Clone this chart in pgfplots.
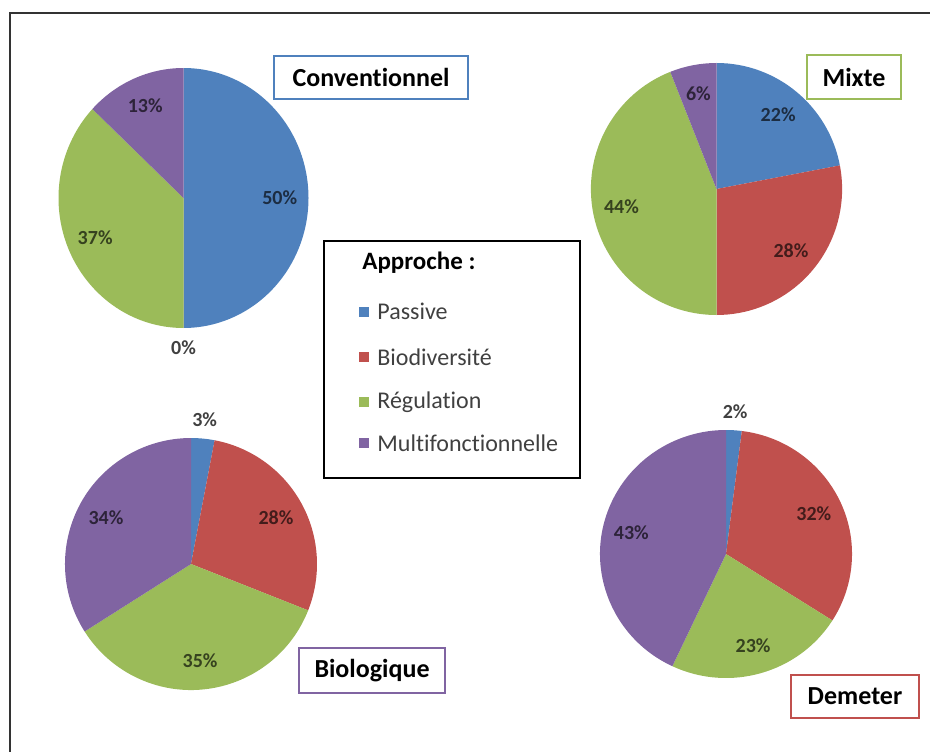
\documentclass[border=0pt]{standalone}
\usepackage{fontspec}
\setmainfont{Carlito}[Ligatures=NoCommon]
\usepackage{pgfplots}
\usepackage{pgfplotstable}
\pgfplotsset{compat=1.18}

\definecolor{cpas}{HTML}{4F81BD}
\definecolor{cbio}{HTML}{C0504D}
\definecolor{creg}{HTML}{9BBB59}
\definecolor{cmul}{HTML}{8064A2}

% parts of each approach, in percent
\pgfplotstableread{
approche valeur
Passive 50
Biodiversite 0
Regulation 37
Multifonctionnelle 13
}\conv
\pgfplotstableread{
approche valeur
Passive 22
Biodiversite 28
Regulation 44
Multifonctionnelle 6
}\mixte
\pgfplotstableread{
approche valeur
Passive 3
Biodiversite 28
Regulation 35
Multifonctionnelle 34
}\bio
\pgfplotstableread{
approche valeur
Passive 2
Biodiversite 32
Regulation 23
Multifonctionnelle 43
}\demeter

\newcommand\lblfont{\bfseries\fontsize{10}{11}\selectfont}
\newcommand\titfont{\bfseries\fontsize{13}{15}\selectfont}
\newcommand\legfont{\fontsize{12}{14}\selectfont}

% one slice: table, row, colour (clockwise from 12 o'clock, like Excel)
\newcommand\slice[3]{%
  \pgfplotstablegetelem{#2}{valeur}\of{#1}%
  \let\val\pgfplotsretval
  \pgfmathsetmacro\angA{90-3.6*\cum}%
  \pgfmathsetmacro\cum{\cum+\val}%
  \pgfmathsetmacro\angB{90-3.6*\cum}%
  \pgfmathsetmacro\angM{(\angA+\angB)/2}%
  \pgfmathsetmacro\dist{\val<5 ? 1.15 : 0.77}%
  \pgfmathparse{\val<5 ? 1 : 0}%
  \ifnum\pgfmathresult=1 \def\lc{black!75}\else\def\lc{#3!35!black}\fi
  \edef\doslice{%
    \noexpand\fill[#3] (axis cs:0,0) -- (axis cs:{cos(\angA)},{sin(\angA)})
      arc[start angle=\angA, end angle=\angB, x radius=\rx, y radius=\ry] -- cycle;
    \noexpand\node[font=\noexpand\lblfont, text=\lc]
      at (axis cs:{\dist*cos(\angM)},{\dist*sin(\angM)}) {\val\noexpand\%};
  }%
  \doslice
}
\newcommand\drawpie[1]{%
  \def\cum{0}%
  \slice{#1}{0}{cpas}\slice{#1}{1}{cbio}\slice{#1}{2}{creg}\slice{#1}{3}{cmul}%
}

\pgfplotsset{pie/.style={hide axis, xmin=-1.3, xmax=1.3, ymin=-1.3, ymax=1.3,
  anchor=center, clip=false}}

\begin{document}
\begin{tikzpicture}
\useasboundingbox (0,0) rectangle (465pt,375.5pt);
\draw[line width=1pt, black!80] (5pt,-5pt) -- (5pt,369pt) -- (470pt,369pt);

\def\rx{62.5pt}\def\ry{65pt}
\begin{axis}[pie, at={(91.75pt,276.5pt)}, x=62.5pt, y=65pt]
\drawpie{\conv}
\end{axis}

\def\rx{62.8pt}\def\ry{63pt}
\begin{axis}[pie, at={(358.25pt,281pt)}, x=62.8pt, y=63pt]
\drawpie{\mixte}
\end{axis}

\def\rx{63pt}\def\ry{63pt}
\begin{axis}[pie, at={(95.5pt,93.5pt)}, x=63pt, y=63pt]
\drawpie{\bio}
\end{axis}

\def\rx{63pt}\def\ry{62pt}
\begin{axis}[pie, at={(363pt,98.5pt)}, x=63pt, y=62pt]
\drawpie{\demeter}
\end{axis}

% titles
\node[draw=cpas, line width=0.6pt, minimum width=97pt, minimum height=21.5pt, font=\titfont]
  at (185.5pt,336.75pt) {Conventionnel};
\node[draw=creg, line width=0.6pt, minimum width=47pt, minimum height=22pt, font=\titfont]
  at (427pt,337pt) {Mixte};
\node[draw=cmul, line width=0.6pt, minimum width=73pt, minimum height=22.5pt, font=\titfont]
  at (186pt,40.25pt) {Biologique};
\node[draw=cbio, line width=0.6pt, minimum width=64pt, minimum height=21.5pt, font=\titfont]
  at (427.5pt,27.25pt) {Demeter};

% legend
\draw[line width=0.8pt] (162pt,136.5pt) rectangle (290pt,255pt);
\node[anchor=west, inner sep=0pt, font=\bfseries\fontsize{12.5}{14}\selectfont]
  at (181pt,244pt) {Approche :};
\foreach \c/\t/\y in {cpas/Passive/219.6, cbio/Biodiversité/197, creg/Régulation/174.5, cmul/Multifonctionnelle/154}{
  \fill[\c] (179.3pt,\y pt-2.5pt) rectangle +(5pt,5pt);
  \node[anchor=west, inner sep=0pt, text=black!75, font=\legfont] at (188.5pt,\y pt) {\t};
}
\end{tikzpicture}
\end{document}
